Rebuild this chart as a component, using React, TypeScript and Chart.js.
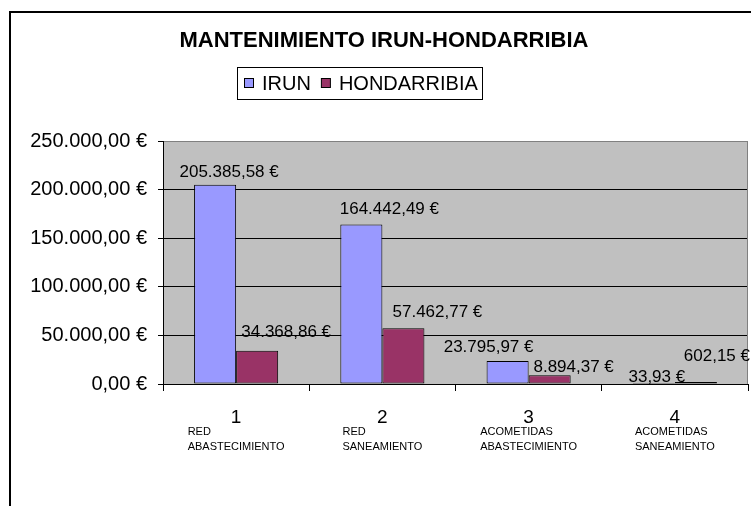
import React, { useEffect, useRef } from "react";
import { Chart, registerables } from "chart.js";

Chart.register(...registerables);

const categoryNumbers = ["1", "2", "3", "4"];
const categoryNames = [
  ["RED", "ABASTECIMIENTO"],
  ["RED", "SANEAMIENTO"],
  ["ACOMETIDAS", "ABASTECIMIENTO"],
  ["ACOMETIDAS", "SANEAMIENTO"],
];
const irunValues = [205385.58, 164442.49, 23795.97, 33.93];
const hondarribiaValues = [34368.86, 57462.77, 8894.37, 602.15];
const yTicks = [0, 50000, 100000, 150000, 200000, 250000];

const chartTitle = "MANTENIMIENTO IRUN-HONDARRIBIA";
const FONT = "'Liberation Sans', Arial, sans-serif";

// label nudges (style only): [dx, dy] from bar top centre
const labelNudge = [
  [[14, -12], [28, -15], [-19, -14], [3, -7]],
  [[29, -18], [34, -16], [24, -8], [21, -26]],
];

function fmtEuro(v: number): string {
  const [i, d] = v.toFixed(2).split(".");
  const withDots = i.replace(/\B(?=(\d{3})+(?!\d))/g, ".");
  return `${withDots},${d} €`;
}

const customPlugin = {
  id: "excelLook",
  beforeDraw(chart: any) {
    const { ctx, chartArea } = chart;
    ctx.save();
    ctx.fillStyle = "#ffffff";
    ctx.fillRect(0, 0, chart.width, chart.height);
    ctx.fillStyle = "#C0C0C0";
    ctx.fillRect(
      chartArea.left,
      chartArea.top,
      chartArea.right - chartArea.left,
      chartArea.bottom - chartArea.top
    );
    ctx.restore();
  },
  afterDraw(chart: any) {
    const { ctx, chartArea } = chart;
    ctx.save();
    // plot right edge
    ctx.strokeStyle = "#808080";
    ctx.lineWidth = 1;
    ctx.beginPath();
    ctx.moveTo(chartArea.right - 0.5, chartArea.top);
    ctx.lineTo(chartArea.right - 0.5, chartArea.bottom);
    ctx.stroke();

    // value labels
    ctx.fillStyle = "#000";
    ctx.font = `17px ${FONT}`;
    ctx.textAlign = "center";
    ctx.textBaseline = "middle";
    chart.data.datasets.forEach((ds: any, di: number) => {
      const meta = chart.getDatasetMeta(di);
      meta.data.forEach((bar: any, j: number) => {
        const [dx, dy] = labelNudge[di][j];
        ctx.fillText(fmtEuro(ds.data[j]), bar.x + dx, bar.y + dy);
      });
    });

    // category names
    const xs = chart.scales.x;
    ctx.font = `11px ${FONT}`;
    ctx.textAlign = "left";
    categoryNames.forEach((lines, i) => {
      const cx = xs.getPixelForValue(i);
      const w = Math.max(...lines.map((l) => ctx.measureText(l).width));
      lines.forEach((l, k) => {
        ctx.fillText(l, cx - w / 2, 432 + k * 15);
      });
    });

    // legend
    const lx = 237.5, ly = 67.5, lw = 245, lh = 32;
    ctx.fillStyle = "#fff";
    ctx.fillRect(lx, ly, lw, lh);
    ctx.strokeStyle = "#000";
    ctx.lineWidth = 1;
    ctx.strokeRect(lx, ly, lw, lh);
    ctx.font = `20px ${FONT}`;
    let x = 244;
    chart.data.datasets.forEach((ds: any) => {
      ctx.fillStyle = ds.backgroundColor;
      ctx.fillRect(x + 0.5, 78.5, 9, 9);
      ctx.strokeStyle = "#000";
      ctx.strokeRect(x + 0.5, 78.5, 9, 9);
      ctx.fillStyle = "#000";
      ctx.textBaseline = "middle";
      ctx.fillText(ds.label, x + 18, 84);
      x = x + 18 + ctx.measureText(ds.label).width + 10;
    });

    // outer chart border
    ctx.strokeStyle = "#000";
    ctx.lineWidth = 2;
    ctx.strokeRect(10, 12, 900, 700);
    ctx.restore();
  },
};

export default function App() {
  const ref = useRef<HTMLCanvasElement | null>(null);
  useEffect(() => {
    if (!ref.current) return;
    const chart = new Chart(ref.current, {
      type: "bar",
      data: {
        labels: categoryNumbers,
        datasets: [
          {
            label: "IRUN",
            data: irunValues,
            backgroundColor: "#9999FF",
            borderColor: "#000",
            borderWidth: 1,
            borderSkipped: false,
            categoryPercentage: 0.575,
            barPercentage: 1,
          },
          {
            label: "HONDARRIBIA",
            data: hondarribiaValues,
            backgroundColor: "#993366",
            borderColor: "#000",
            borderWidth: 1,
            borderSkipped: false,
            minBarLength: 2,
            categoryPercentage: 0.575,
            barPercentage: 1,
          },
        ],
      },
      options: {
        responsive: false,
        animation: false,
        devicePixelRatio: 1,
        layout: { padding: { left: 20, right: 3, top: 0, bottom: 0 } },
        plugins: {
          legend: { display: false },
          tooltip: { enabled: false },
          title: {
            display: true,
            text: chartTitle,
            color: "#000",
            font: { family: FONT, size: 22, weight: "bold" },
            padding: { top: 28, bottom: 87 },
          },
        },
        scales: {
          x: {
            afterFit: (s: any) => {
              s.height = 122;
            },
            grid: {
              display: true,
              drawOnChartArea: false,
              drawTicks: true,
              tickLength: 7,
              color: "#000",
              tickColor: "#000",
              offset: true,
            },
            border: { display: true, color: "#000", width: 1 },
            ticks: {
              color: "#000",
              font: { family: FONT, size: 19 },
              padding: 15,
              maxRotation: 0,
            },
          },
          y: {
            min: 0,
            max: 250000,
            afterFit: (s: any) => {
              s.width = 143;
            },
            afterBuildTicks: (s: any) => {
              s.ticks = yTicks.map((v) => ({ value: v }));
            },
            grid: {
              color: (c: any) =>
                c.tick && c.tick.value === 250000 ? "#808080" : "#000",
              tickColor: "#000",
              tickLength: 5,
              lineWidth: 1,
            },
            border: { display: true, color: "#000", width: 1 },
            ticks: {
              color: "#000",
              font: { family: FONT, size: 20 },
              padding: 11,
              callback: (v: any) => fmtEuro(Number(v)),
            },
          },
        },
      },
      plugins: [customPlugin],
    });
    return () => chart.destroy();
  }, []);
  return (
    <div
      style={{
        position: "fixed",
        left: 0,
        top: 0,
        width: 751,
        height: 506,
        background: "#fff",
      }}
    >
      <canvas ref={ref} width={751} height={506} style={{ display: "block" }} />
    </div>
  );
}
